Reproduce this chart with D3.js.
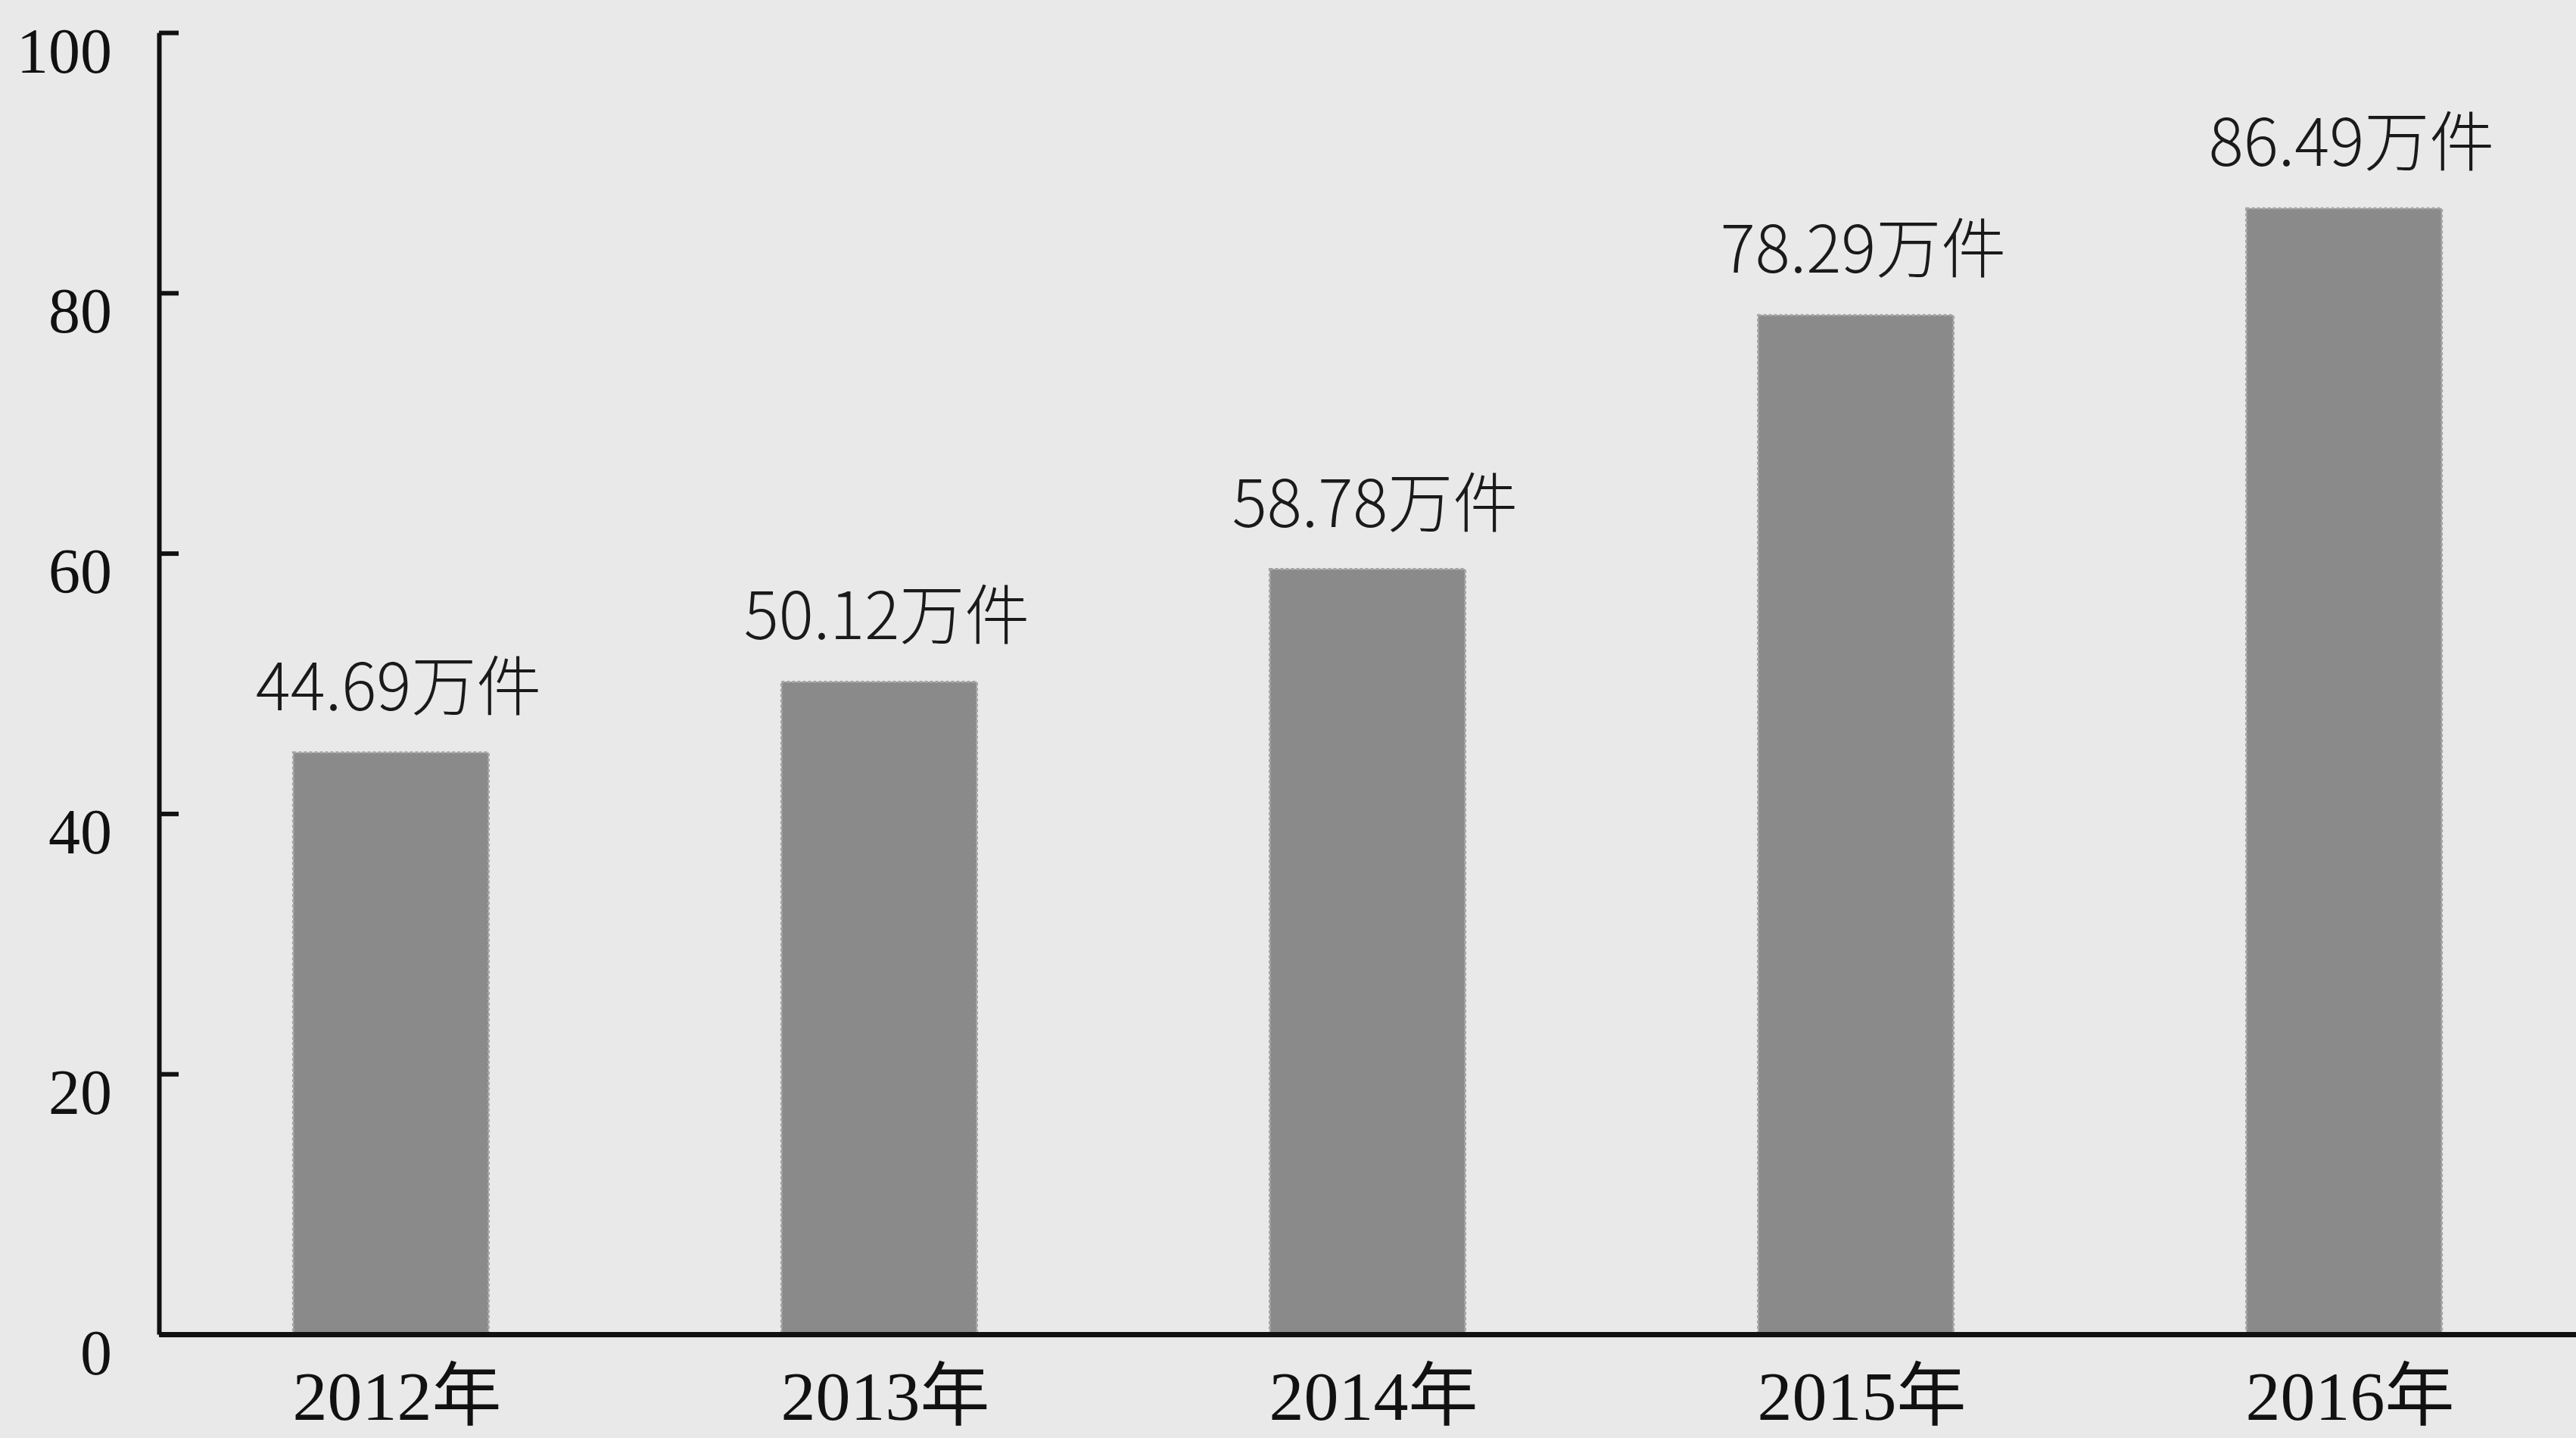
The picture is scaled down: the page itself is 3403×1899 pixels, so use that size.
<!DOCTYPE html>
<html>
<head>
<meta charset="utf-8">
<script src="https://cdn.jsdelivr.net/npm/d3@7"></script>
<style>
  html, body { margin: 0; padding: 0; background: #e9e9e9; }
  #chart { width: 3403px; height: 1899px; }
</style>
</head>
<body>
<div id="chart"></div>
<script>
// values (unit: 万件)
const years = ["2012年", "2013年", "2014年", "2015年", "2016年"];
const cases = [44.69, 50.12, 58.78, 78.29, 86.49];
const valueLabels = ["44.69万件", "50.12万件", "58.78万件", "78.29万件", "86.49万件"];
const yTicks = [0, 20, 40, 60, 80, 100];

const W = 3403, H = 1899;
const margin = {top: 43, right: 0, bottom: 137, left: 210};

const svg = d3.select("#chart").append("svg")
    .attr("width", W)
    .attr("height", H);

svg.append("rect").attr("width", W).attr("height", H).attr("fill", "#e9e9e9");

const x = d3.scaleBand()
    .domain(years)
    .range([margin.left, W - margin.right])
    .paddingInner(0.6)
    .paddingOuter(0.275);

const y = d3.scaleLinear()
    .domain([0, 100])
    .range([H - margin.bottom, margin.top]);

// bars
svg.append("g")
    .selectAll("rect")
    .data(cases)
    .join("rect")
    .attr("x", (d, i) => x(years[i]))
    .attr("y", d => y(d))
    .attr("width", x.bandwidth())
    .attr("height", d => y(0) - y(d))
    .attr("fill", "#8a8a8a")
    .attr("stroke", "#a4a4a4")
    .attr("stroke-width", 3)
    .attr("stroke-dasharray", "4,3");

// value labels above bars
svg.append("g")
    .selectAll("text")
    .data(cases)
    .join("text")
    .attr("x", (d, i) => x(years[i]) + x.bandwidth() / 2 + 10)
    .attr("y", d => y(d) - 56)
    .attr("text-anchor", "middle")
    .attr("font-family", "'Noto Sans CJK SC', 'Noto Sans', sans-serif")
    .attr("font-size", "86px")
    .attr("font-weight", 300)
    .attr("fill", "#1a1a1a")
    .text((d, i) => valueLabels[i]);

// y axis, ticks pointing inward
const yAxis = svg.append("g")
    .attr("transform", `translate(${margin.left},0)`)
    .call(d3.axisLeft(y).tickValues(yTicks).tickSize(-26).tickSizeOuter(0).tickPadding(62));

yAxis.select(".domain").attr("stroke", "#111").attr("stroke-width", 6);
yAxis.selectAll(".tick line").attr("stroke", "#111").attr("stroke-width", 6);
yAxis.selectAll(".tick text")
    .attr("font-family", "'Liberation Serif', 'Times New Roman', serif")
    .attr("font-size", "84px")
    .attr("fill", "#111")
    .attr("dy", "0.62em");

// x axis
const xAxis = svg.append("g")
    .attr("transform", `translate(0,${y(0)})`)
    .call(d3.axisBottom(x).tickSize(0).tickSizeOuter(0).tickPadding(48));

xAxis.select(".domain").attr("stroke", "#111").attr("stroke-width", 7);
xAxis.selectAll(".tick text")
    .attr("font-family", "'Liberation Serif', 'Noto Sans CJK SC', serif")
    .attr("font-size", "92px")
    .attr("fill", "#111")
    .attr("dx", "8");
</script>
</body>
</html>
